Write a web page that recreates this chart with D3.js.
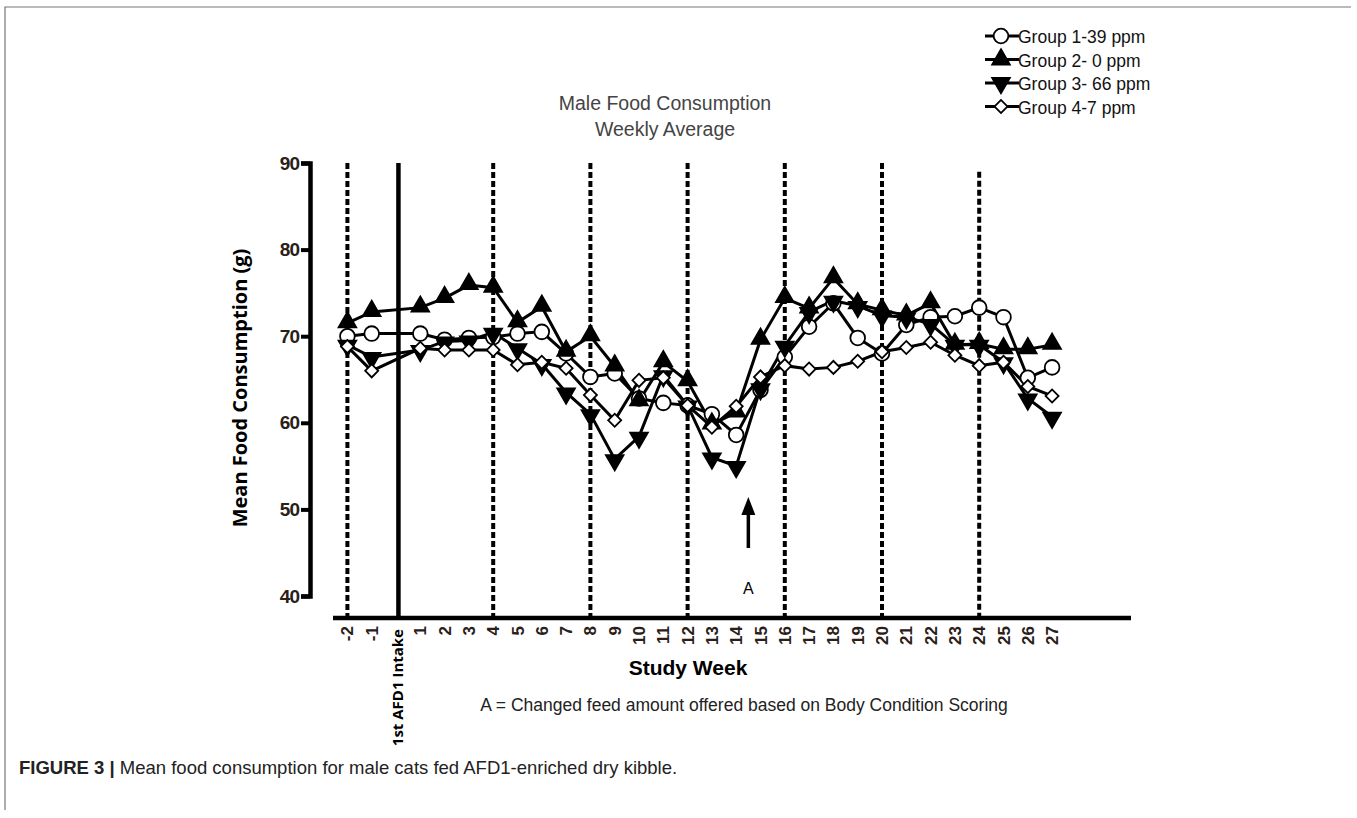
<!DOCTYPE html>
<html>
<head>
<meta charset="utf-8">
<script src="https://cdn.jsdelivr.net/npm/d3@7"></script>
<style>
  body { margin: 0; background: #fff; }
  svg { display: block; }
</style>
</head>
<body>
<svg id="chart" width="1357" height="818"></svg>
<script>
// weeks on the x axis (no week 0; the intake line sits there)
const weeks = [-2, -1, 1, 2, 3, 4, 5, 6, 7, 8, 9, 10, 11, 12, 13, 14, 15, 16, 17, 18, 19, 20, 21, 22, 23, 24, 25, 26, 27];
const yTicks = [40, 50, 60, 70, 80, 90];
const dashedWeeks = [-2, 4, 8, 12, 16, 20, 24];
const intakeWeek = 0.1;
const arrowWeek = 14.5;

const seriesNames = ["Group 1-39 ppm", "Group 2- 0 ppm", "Group 3- 66 ppm", "Group 4-7 ppm"];
const group1 = [70.0, 70.3, 70.3, 69.6, 69.8, 69.9, 70.3, 70.5, 68.0, 65.3, 65.7, 62.8, 62.3, 62.0, 61.0, 58.6, 63.8, 67.6, 71.1, 73.8, 69.8, 68.0, 71.3, 72.2, 72.3, 73.3, 72.2, 65.2, 66.4];
const group2 = [71.5, 72.8, 73.3, 74.4, 75.9, 75.6, 71.6, 73.4, 68.2, 70.0, 66.5, 62.5, 67.0, 64.8, 59.8, 61.2, 69.6, 74.4, 73.2, 76.7, 73.7, 73.0, 72.4, 73.8, 69.0, 69.1, 68.5, 68.5, 69.0];
const group3 = [69.0, 67.6, 68.4, 69.4, 69.5, 70.4, 68.6, 66.8, 63.5, 61.0, 55.8, 58.4, 65.5, 62.0, 56.0, 55.0, 64.0, 68.9, 72.8, 74.1, 73.5, 72.4, 72.2, 71.4, 69.0, 69.0, 67.0, 62.8, 60.7];
const group4 = [68.8, 66.0, 68.6, 68.4, 68.4, 68.4, 66.7, 67.0, 66.3, 63.2, 60.3, 64.9, 65.2, 62.0, 59.5, 61.9, 65.3, 66.6, 66.2, 66.4, 67.1, 68.2, 68.7, 69.3, 67.8, 66.6, 67.0, 64.2, 63.1];

const svg = d3.select("#chart");

const x = d3.scaleLinear().domain([-2, 27]).range([347.4, 1052.1]);
const y = d3.scaleLinear().domain([40, 90]).range([596, 163]);
const axisY = 618;

// figure frame
svg.append("path")
  .attr("d", "M5,810 V7 H1351")
  .attr("fill", "none").attr("stroke", "#777").attr("stroke-width", 1.2);

// markers
const markers = [
  { type: d3.symbolCircle, size: 170, fill: "#fff", rot: 0 },
  { type: d3.symbolTriangle, size: 135, fill: "#000", rot: 0 },
  { type: d3.symbolTriangle, size: 135, fill: "#000", rot: 180 },
  { type: d3.symbolSquare, size: 85, fill: "#fff", rot: 45 }
];

// dashed week lines
svg.selectAll(".dash")
  .data(dashedWeeks)
  .enter().append("line")
  .attr("x1", d => x(d)).attr("x2", d => x(d))
  .attr("y1", d => d === 24 ? y(89) : y(90)).attr("y2", axisY)
  .attr("stroke", "#000").attr("stroke-width", 4)
  .attr("stroke-dasharray", "6,3");

// first intake line
svg.append("line")
  .attr("x1", x(intakeWeek)).attr("x2", x(intakeWeek))
  .attr("y1", y(90)).attr("y2", axisY)
  .attr("stroke", "#000").attr("stroke-width", 4.5);

// y axis
const yAxis = svg.append("g")
  .attr("transform", "translate(310,0)")
  .call(d3.axisLeft(y).tickValues(yTicks).tickSize(9).tickPadding(2));
yAxis.select(".domain").attr("stroke", "#000").attr("stroke-width", 4.5);
yAxis.selectAll(".tick line").attr("stroke", "#000").attr("stroke-width", 4);
yAxis.selectAll(".tick text")
  .attr("fill", "#2a2018")
  .style("font", "bold 19px 'Liberation Sans', Arial, sans-serif")
  .style("letter-spacing", "-1px");

// x axis
svg.append("line")
  .attr("x1", 333).attr("x2", 1131)
  .attr("y1", axisY).attr("y2", axisY)
  .attr("stroke", "#000").attr("stroke-width", 4.5);

svg.selectAll(".xlab")
  .data(weeks)
  .enter().append("text")
  .attr("transform", d => `translate(${x(d) + 6},${axisY + 8}) rotate(-90)`)
  .attr("text-anchor", "end")
  .attr("fill", "#2a2018")
  .style("font", "bold 17px 'Liberation Sans', Arial, sans-serif")
  .text(d => d);

svg.append("text")
  .attr("transform", `translate(${x(intakeWeek) + 5},${axisY + 11}) rotate(-90)`)
  .attr("text-anchor", "end")
  .style("font", "bold 15px 'Open Sans', sans-serif")
  .text("1st AFD1 Intake");

svg.append("text")
  .attr("x", 688).attr("y", 675)
  .attr("text-anchor", "middle")
  .style("font", "bold 21px 'Liberation Sans', Arial, sans-serif")
  .text("Study Week");

svg.append("text")
  .attr("x", 744).attr("y", 711)
  .attr("text-anchor", "middle")
  .style("font", "17.5px 'Liberation Sans', Arial, sans-serif")
  .attr("fill", "#222")
  .text("A = Changed feed amount offered based on Body Condition Scoring");

// y label
svg.append("text")
  .attr("transform", "translate(247,388) rotate(-90)")
  .attr("text-anchor", "middle")
  .style("font", "bold 20px 'Open Sans', sans-serif")
  .text("Mean Food Consumption (g)");

// title
svg.append("text")
  .attr("x", 665).attr("y", 110)
  .attr("text-anchor", "middle")
  .attr("fill", "#444")
  .style("font", "19.5px 'Liberation Sans', Arial, sans-serif")
  .text("Male Food Consumption");
svg.append("text")
  .attr("x", 665).attr("y", 136)
  .attr("text-anchor", "middle")
  .attr("fill", "#444")
  .style("font", "19.5px 'Liberation Sans', Arial, sans-serif")
  .text("Weekly Average");

// arrow A
const ax = x(arrowWeek);
svg.append("line")
  .attr("x1", ax).attr("x2", ax).attr("y1", 548).attr("y2", 510)
  .attr("stroke", "#000").attr("stroke-width", 3.5);
svg.append("path")
  .attr("d", `M${ax - 7},${515} L${ax},${497} L${ax + 7},${515} Z`)
  .attr("fill", "#000");
svg.append("text")
  .attr("x", ax).attr("y", 594)
  .attr("text-anchor", "middle")
  .style("font", "16px 'Liberation Sans', Arial, sans-serif")
  .text("A");

// series
const allSeries = [group1, group2, group3, group4];
const line = d3.line().x(d => x(d[0])).y(d => y(d[1]));

allSeries.forEach((vals, i) => {
  const pts = weeks.map((w, j) => [w, vals[j]]);
  svg.append("path")
    .datum(pts)
    .attr("d", line)
    .attr("fill", "none").attr("stroke", "#000").attr("stroke-width", 3);
});

allSeries.forEach((vals, i) => {
  const m = markers[i];
  const sym = d3.symbol().type(m.type).size(m.size);
  svg.selectAll(".m" + i)
    .data(weeks.map((w, j) => [w, vals[j]]))
    .enter().append("path")
    .attr("d", sym)
    .attr("transform", d => `translate(${x(d[0])},${y(d[1]) + (m.rot === 180 ? 1 : (i === 1 ? -1 : 0))}) rotate(${m.rot})`)
    .attr("fill", m.fill).attr("stroke", "#000").attr("stroke-width", 1.8);
});

// legend
const legend = svg.selectAll(".legend")
  .data(seriesNames)
  .enter().append("g")
  .attr("transform", (d, i) => `translate(0,${36 + i * 23.5})`);
legend.append("line")
  .attr("x1", 985).attr("x2", 1019)
  .attr("stroke", "#000").attr("stroke-width", 3);
legend.append("path")
  .attr("d", (d, i) => d3.symbol().type(markers[i].type).size(markers[i].size)())
  .attr("transform", (d, i) => `translate(1001,0) rotate(${markers[i].rot})`)
  .attr("fill", (d, i) => markers[i].fill)
  .attr("stroke", "#000").attr("stroke-width", 1.8);
legend.append("text")
  .attr("x", 1018).attr("y", 7)
  .style("font", "17.5px 'Liberation Sans', Arial, sans-serif")
  .attr("fill", "#111")
  .text(d => d);

// caption
const cap = svg.append("text")
  .attr("x", 19).attr("y", 774)
  .style("font", "18.5px 'Liberation Sans', Arial, sans-serif")
  .attr("fill", "#222");
cap.append("tspan").style("font-weight", "bold").text("FIGURE 3 | ");
cap.append("tspan").text("Mean food consumption for male cats fed AFD1-enriched dry kibble.");
</script>
</body>
</html>
